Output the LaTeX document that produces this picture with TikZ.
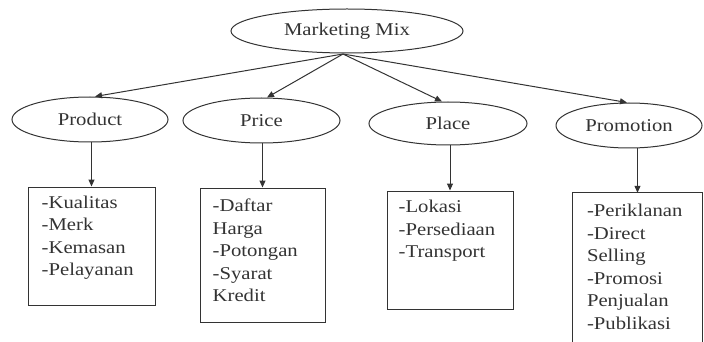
\documentclass[tikz,border=0pt]{standalone}
\usepackage{fontspec}
\setmainfont{Liberation Serif}[FakeStretch=1.15]
\usetikzlibrary{arrows.meta,shapes.geometric}
\definecolor{ink}{HTML}{333333}
\begin{document}
\begin{tikzpicture}[x=1pt,y=-1pt,
  every node/.style={font=\fontsize{18}{22.5}\selectfont, text=ink},
  oval/.style={ellipse, draw=ink, line width=1pt, inner sep=0pt},
  box/.style={rectangle, draw=ink, line width=1pt, inner sep=0pt},
  items/.style={align=left, inner sep=0pt, anchor=north west},
  link/.style={draw=ink, line width=1pt, -{Triangle[length=7pt,width=6pt]}}]
\useasboundingbox (0,0) rectangle (704,342);
% ellipses
\node[oval, minimum width=232pt, minimum height=44pt] (mm) at (347,31) {Marketing Mix};
\node[oval, minimum width=156pt, minimum height=45pt] (product) at (90,119.5) {Product};
\node[oval, minimum width=157pt, minimum height=45pt] (price) at (261.5,120.5) {Price};
\node[oval, minimum width=158pt, minimum height=43pt] (place) at (448,123.5) {Place};
\node[oval, minimum width=146pt, minimum height=45pt] (promotion) at (629,125.5) {Promotion};
% boxes
\node[box, minimum width=127pt, minimum height=118pt] (b1) at (91.5,246) {};
\node[box, minimum width=125pt, minimum height=134pt] (b2) at (262.5,255) {};
\node[box, minimum width=126pt, minimum height=118pt] (b3) at (450,250) {};
\node[rectangle, inner sep=0pt, minimum width=129pt, minimum height=149pt] (b4) at (637.5,267.5) {};
\draw[ink, line width=1pt] (b4.south west) -- (b4.north west) -- (b4.north east) -- (b4.south east);
% box texts
\node[items] (t1) at ([shift={(14,9)}]b1.north west) {-Kualitas\\-Merk\\-Kemasan\\-Pelayanan};
\node[items] (t2) at ([shift={(13,11.5)}]b2.north west) {-Daftar\\Harga\\-Potongan\\-Syarat\\Kredit};
\node[items] (t3) at ([shift={(12,9.5)}]b3.north west) {-Lokasi\\-Persediaan\\-Transport};
\node[items] (t4) at ([shift={(14,11.5)}]b4.north west) {-Periklanan\\-Direct\\Selling\\-Promosi\\Penjualan\\-Publikasi};
% connectors
\coordinate (hub) at (343,54);
\draw[link] (hub) -- ([xshift=5pt]product.north);
\draw[link] (hub) -- ([xshift=5.5pt]price.north);
\draw[link] (hub) -- ([xshift=-6pt]place.north);
\draw[link] (hub) -- ([xshift=-2pt]promotion.north);
\draw[link] (b1.north |- product.south) -- (b1.north);
\draw[link] (b2.north |- price.south) -- (b2.north);
\draw[link] (b3.north |- place.south) -- (b3.north);
\draw[link] (b4.north |- promotion.south) -- (b4.north);
\end{tikzpicture}
\end{document}
